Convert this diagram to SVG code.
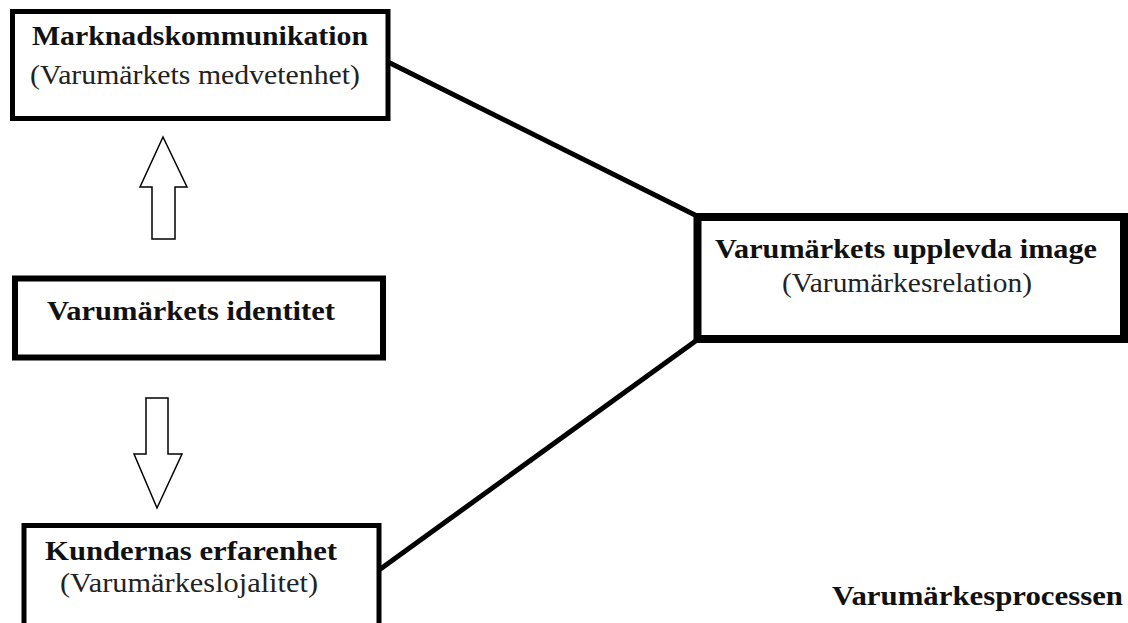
<svg xmlns="http://www.w3.org/2000/svg" width="1128" height="623" viewBox="0 0 1128 623">
<style>
.box{fill:#fff;stroke:#000}
.b{font-family:"Liberation Serif","Times New Roman",serif;font-weight:bold;font-size:27px;fill:#111}
.r{font-family:"Liberation Serif","Times New Roman",serif;font-size:28px;fill:#222}
.arr{fill:#fff;stroke:#000;stroke-width:1.5}
.conn{stroke:#000;stroke-width:5;fill:none}
</style>
<rect width="1128" height="623" fill="#fff"/>
<g id="connectors">
<line class="conn" x1="388" y1="62" x2="697" y2="216"/>
<line class="conn" x1="379" y1="570" x2="697" y2="340"/>
<polygon class="arr" points="163,137 187,187 175,187 175,239 152,239 152,187 140,187"/>
<polygon class="arr" points="146,398 168,398 168,454 182,454 157,508 134,454 146,454"/>
</g>
<g id="marknadskommunikation">
<rect class="box" x="12.5" y="11.5" width="375.5" height="107" stroke-width="5"/>
<text class="b" x="32" y="45" textLength="336" lengthAdjust="spacingAndGlyphs">Marknadskommunikation</text>
<text class="r" x="30" y="84" textLength="330" lengthAdjust="spacingAndGlyphs">(Varumärkets medvetenhet)</text>
</g>
<g id="identitet">
<rect class="box" x="15" y="278.5" width="368" height="79" stroke-width="6"/>
<text class="b" x="47" y="320" textLength="288" lengthAdjust="spacingAndGlyphs">Varumärkets identitet</text>
</g>
<g id="kundernas">
<rect class="box" x="24" y="525.5" width="355" height="110" stroke-width="5"/>
<text class="b" x="45" y="560" textLength="292" lengthAdjust="spacingAndGlyphs">Kundernas erfarenhet</text>
<text class="r" x="60" y="592" textLength="258" lengthAdjust="spacingAndGlyphs">(Varumärkeslojalitet)</text>
</g>
<g id="image">
<rect class="box" x="697.5" y="217" width="426.5" height="122" stroke-width="8"/>
<text class="b" x="715" y="258" textLength="382" lengthAdjust="spacingAndGlyphs">Varumärkets upplevda image</text>
<text class="r" x="782" y="292" textLength="250" lengthAdjust="spacingAndGlyphs">(Varumärkesrelation)</text>
</g>
<g id="title">
<text class="b" x="832" y="605" textLength="291" lengthAdjust="spacingAndGlyphs">Varumärkesprocessen</text>
</g>
</svg>
